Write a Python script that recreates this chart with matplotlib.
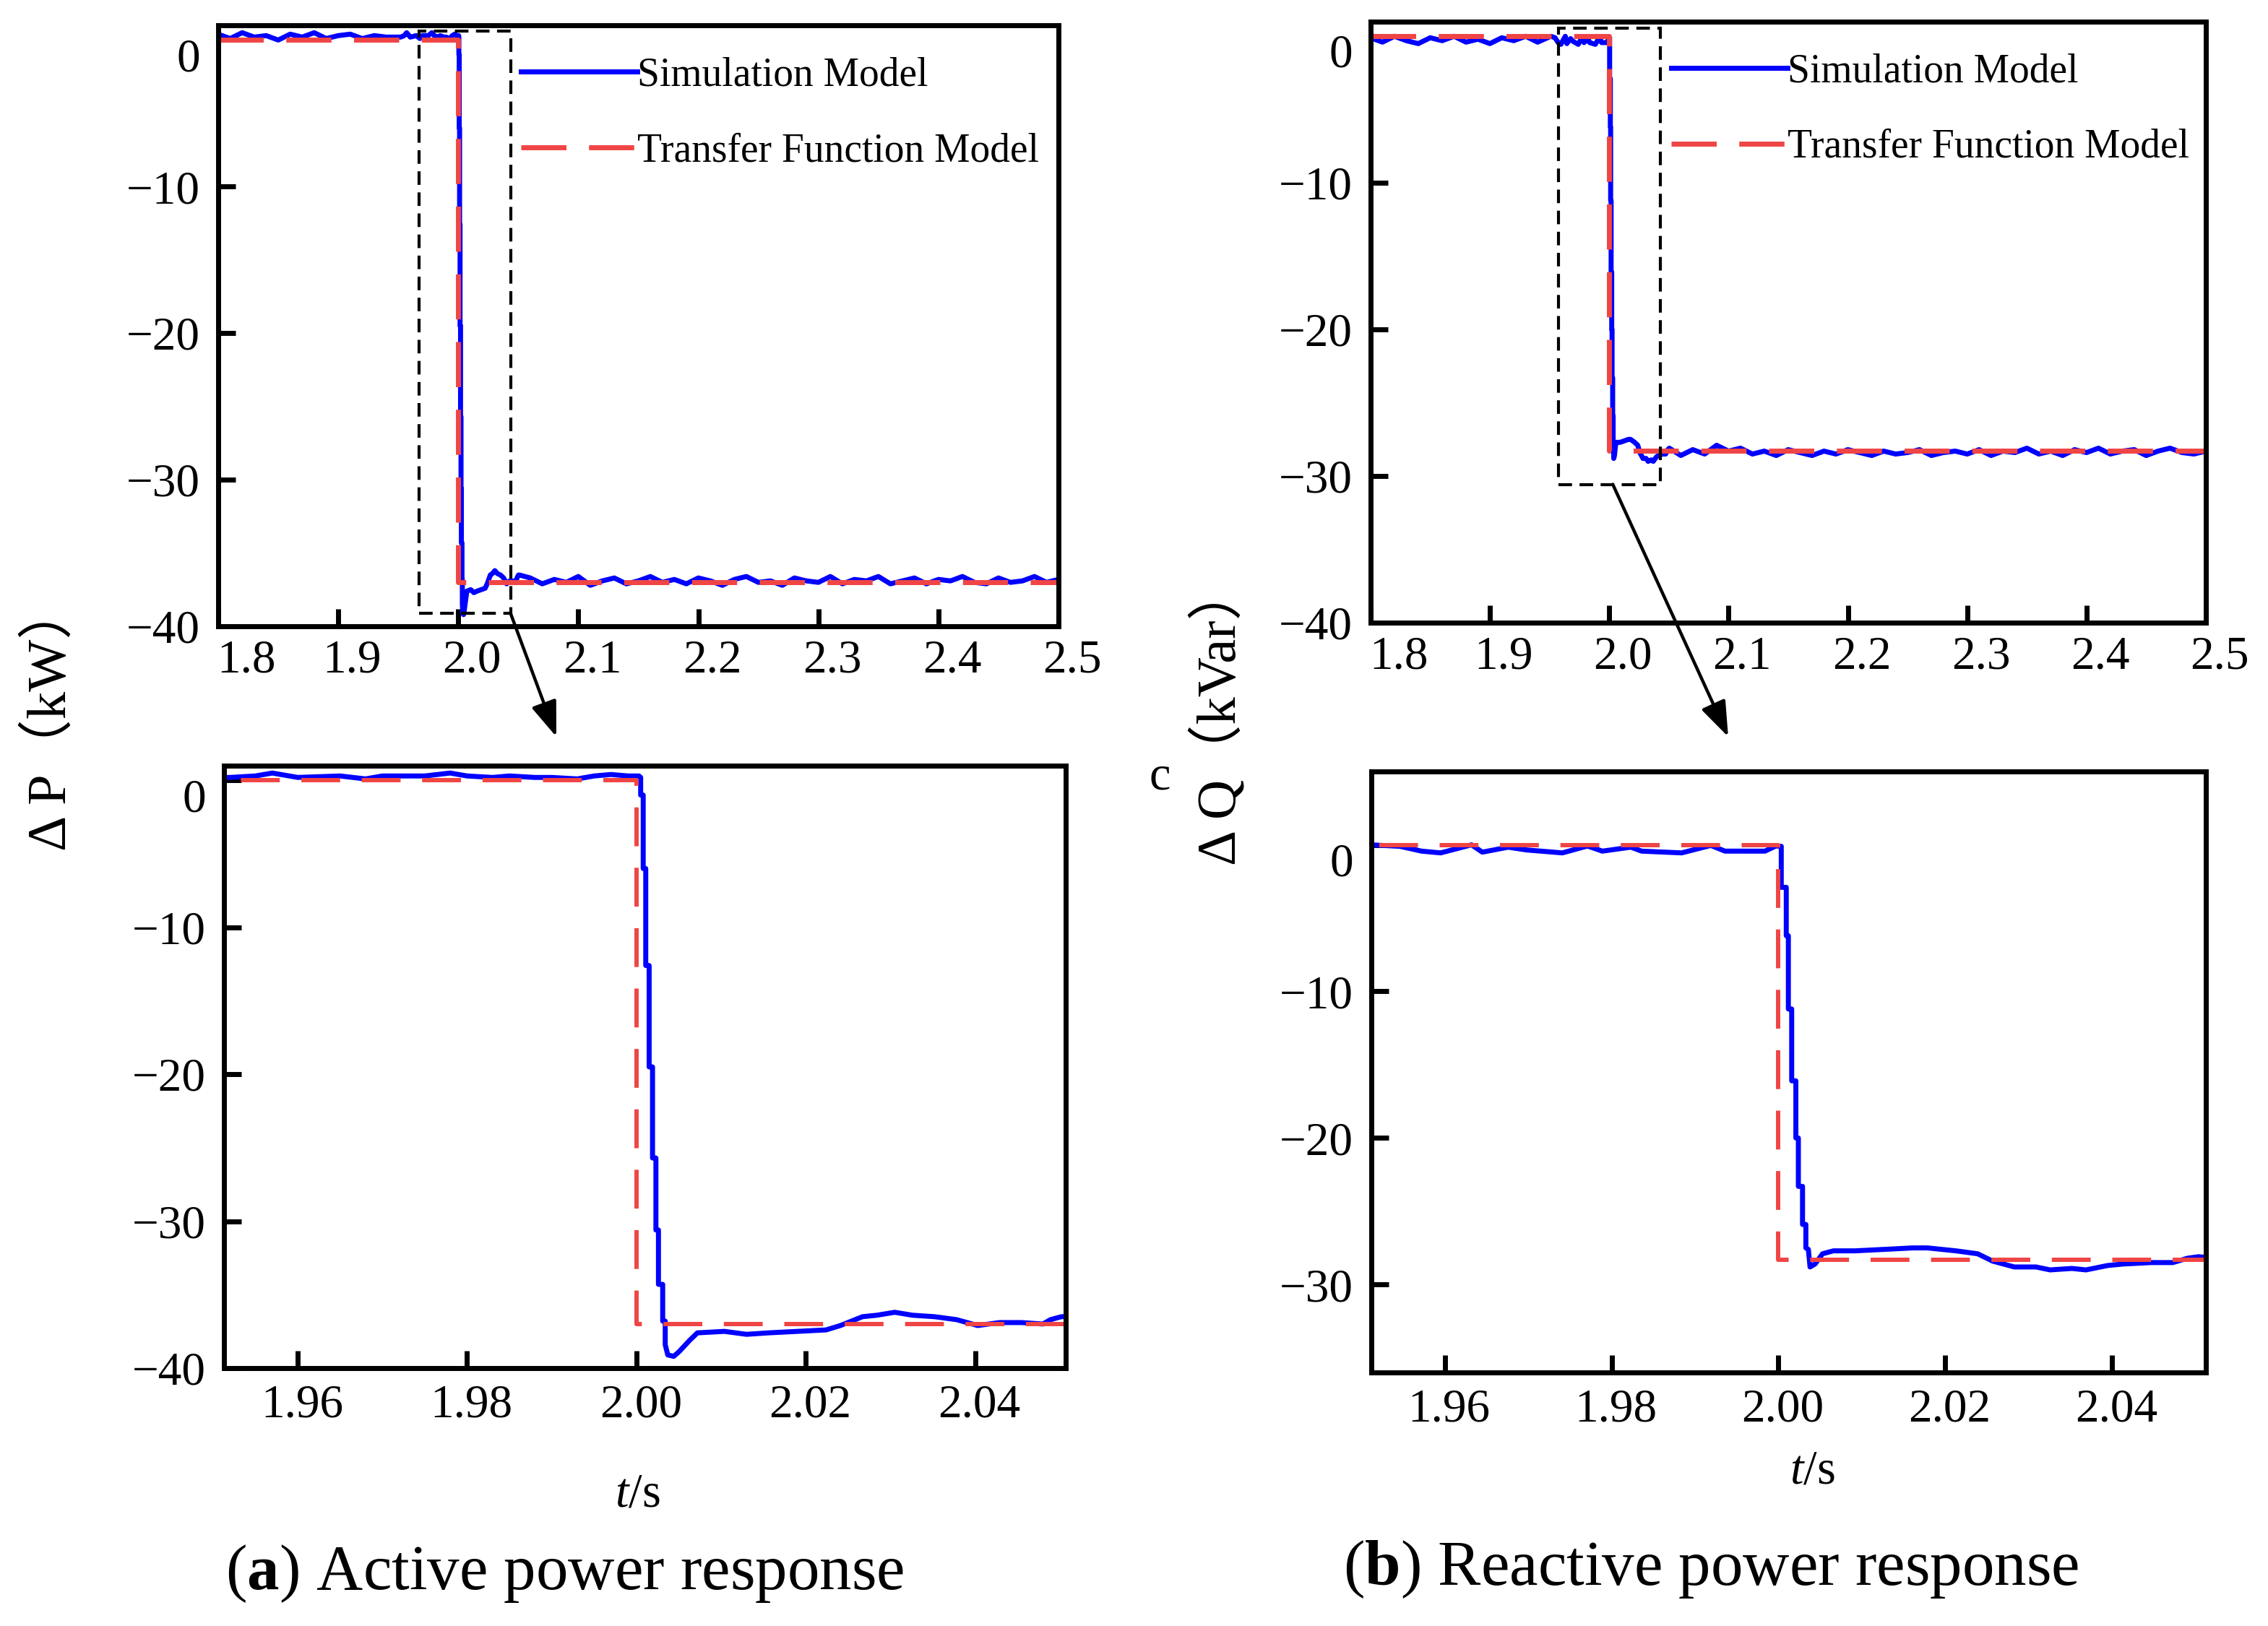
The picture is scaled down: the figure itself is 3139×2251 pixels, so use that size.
import matplotlib
matplotlib.use('Agg')
import matplotlib.pyplot as plt
import matplotlib.transforms as mtransforms
from matplotlib.patches import Rectangle

plt.rcParams['font.family'] = ['Liberation Serif', 'Noto Sans CJK SC']
plt.rcParams['mathtext.fontset'] = 'custom'
plt.rcParams['mathtext.rm'] = 'Liberation Serif'
plt.rcParams['mathtext.it'] = 'Liberation Serif:italic'
plt.rcParams['mathtext.bf'] = 'Liberation Serif:bold'

# ---- data ----
labels = ['Simulation Model', 'Transfer Function Model']

# active power, simulation model
p_t_pre = [1.80, 1.81, 1.82, 1.83, 1.84, 1.85, 1.86, 1.87, 1.88, 1.89, 1.90, 1.91, 1.92, 1.93, 1.94]
p_v_pre = [0.4, 0.1, 0.5, 0.2, 0.3, 0.0, 0.4, 0.2, 0.5, 0.1, 0.3, 0.4, 0.1, 0.3, 0.2]
# zoomed window, the drop is a sample-and-hold staircase
p_t_win = [1.9520, 1.9550, 1.9570, 1.9600, 1.9650, 1.9680, 1.9700, 1.9750, 1.9780, 1.9800,
           1.9830, 1.9850, 1.9880, 1.9900, 1.9930, 1.9950, 1.9970, 1.9990, 2.0003, 2.0005,
           2.0005, 2.0008, 2.0008, 2.0011, 2.0011, 2.0015, 2.0015, 2.0019, 2.0019, 2.0023,
           2.0023, 2.0026, 2.0026, 2.0031, 2.0031, 2.0034, 2.0034, 2.0037, 2.0044, 2.0050,
           2.0063, 2.0072, 2.0104, 2.0130, 2.0156, 2.0190, 2.0224, 2.0241, 2.0267, 2.0284,
           2.0305, 2.0326, 2.0352, 2.0378, 2.0403, 2.0429, 2.0455, 2.0480, 2.0489, 2.0502,
           2.0510]
p_v_win = [0.2, 0.3, 0.5, 0.2, 0.3, 0.1, 0.3, 0.3, 0.5, 0.3,
           0.2, 0.3, 0.2, 0.2, 0.1, 0.3, 0.4, 0.3, 0.3, 0.2,
           -1.0, -1.0, -6.0, -6.0, -12.6, -12.6, -19.5, -19.5, -25.7, -25.7,
           -30.6, -30.6, -34.3, -34.3, -36.8, -36.8, -38.4, -39.1, -39.2, -38.9,
           -38.1, -37.6, -37.5, -37.7, -37.6, -37.5, -37.4, -37.1, -36.5, -36.4,
           -36.2, -36.4, -36.5, -36.7, -37.1, -36.9, -36.9, -37.0, -36.7, -36.5,
           -36.5]
post_t = [2.06, 2.07, 2.08, 2.09, 2.10, 2.11, 2.12, 2.13, 2.14, 2.15, 2.16, 2.17, 2.18, 2.19, 2.20,
          2.21, 2.22, 2.23, 2.24, 2.25, 2.26, 2.27, 2.28, 2.29, 2.30, 2.31, 2.32, 2.33, 2.34, 2.35,
          2.36, 2.37, 2.38, 2.39, 2.40, 2.41, 2.42, 2.43, 2.44, 2.45, 2.46, 2.47, 2.48, 2.49, 2.50]
p_v_post = [-36.7, -37.1, -36.8, -37.0, -36.6, -37.2, -36.9, -36.7, -37.1, -36.9,
            -36.6, -37.0, -36.8, -37.1, -36.7, -36.9, -37.2, -36.8, -36.6, -37.0,
            -36.9, -37.2, -36.7, -36.9, -37.0, -36.6, -37.1, -36.8, -36.9, -36.6,
            -37.1, -36.9, -36.7, -37.1, -36.8, -36.9, -36.6, -37.0, -37.1, -36.7,
            -37.0, -36.9, -36.6, -37.0, -36.8]

# reactive power, simulation model
q_v_pre = [-0.1, -0.4, 0.0, -0.3, -0.5, -0.1, -0.3, 0.0, -0.4, -0.2, -0.5, -0.1, -0.3, 0.0, -0.4]
q_t_win = [1.9511, 1.9546, 1.9572, 1.9595, 1.9632, 1.9645, 1.9676, 1.9698, 1.9741, 1.9771,
           1.9789, 1.9823, 1.9836, 1.9884, 1.9919, 1.9936, 1.9984, 1.9997, 2.00035, 2.00035,
           2.00095, 2.00095, 2.0012, 2.0012, 2.0016, 2.0016, 2.0021, 2.0021, 2.0024, 2.0024,
           2.0029, 2.0029, 2.0033, 2.0033, 2.0036, 2.0038, 2.0044, 2.0053, 2.0066, 2.0092,
           2.0127, 2.0161, 2.0179, 2.0213, 2.0239, 2.0257, 2.0283, 2.0309, 2.0326, 2.0352,
           2.0369, 2.0395, 2.0413, 2.0447, 2.0473, 2.0491, 2.0504]
q_v_win = [0.0, -0.1, -0.43, -0.55, 0.0, -0.5, -0.16, -0.35, -0.55, -0.08,
           -0.43, -0.16, -0.43, -0.55, -0.04, -0.43, -0.43, -0.08, -0.1, -2.9,
           -2.9, -6.2, -6.2, -11.2, -11.2, -16.1, -16.1, -20.0, -20.0, -23.3,
           -23.3, -25.9, -25.9, -27.5, -27.6, -28.8, -28.6, -27.9, -27.7, -27.7,
           -27.6, -27.5, -27.5, -27.7, -27.9, -28.4, -28.8, -28.8, -29.0, -28.9,
           -29.0, -28.7, -28.6, -28.5, -28.5, -28.2, -28.1]
q_v_post = [-28.6, -28.2, -28.5, -27.9, -28.3, -28.1, -28.5, -28.3, -28.6, -28.2,
            -28.4, -28.6, -28.3, -28.5, -28.2, -28.4, -28.6, -28.3, -28.5, -28.4,
            -28.2, -28.6, -28.4, -28.3, -28.5, -28.2, -28.6, -28.3, -28.4, -28.1,
            -28.5, -28.3, -28.6, -28.2, -28.4, -28.1, -28.5, -28.3, -28.2, -28.6,
            -28.3, -28.1, -28.4, -28.5, -28.3]

# transfer function model (ideal step)
tf_t = [1.80, 2.00, 2.00, 2.50]
tf_p = [0.0, 0.0, -37.0, -37.0]
tf_q = [0.0, 0.0, -28.3, -28.3]

p_t = p_t_pre + p_t_win + post_t
p_v = p_v_pre + p_v_win + p_v_post
q_t = p_t_pre + q_t_win + post_t
q_v = q_v_pre + q_v_win + q_v_post

wide_ticks = [1.8, 1.9, 2.0, 2.1, 2.2, 2.3, 2.4, 2.5]
wide_labels = ['1.8', '1.9', '2.0', '2.1', '2.2', '2.3', '2.4', '2.5']
zoom_ticks = [1.96, 1.98, 2.00, 2.02, 2.04]
zoom_labels = ['1.96', '1.98', '2.00', '2.02', '2.04']

BLUE = '#0000ff'
RED = '#f04545'

fig = plt.figure(figsize=(31.39, 22.51), dpi=100)

ax_p = fig.add_axes([0.0962, 0.6148, 0.3705, 0.3696])
ax_q = fig.add_axes([0.6043, 0.6171, 0.3683, 0.3696])
ax_pz = fig.add_axes([0.0988, 0.1586, 0.3711, 0.3705])
ax_qz = fig.add_axes([0.6047, 0.1559, 0.3680, 0.3696])


def shift_label(lab, dx, dy):
    lab.set_transform(lab.get_transform() +
                      mtransforms.ScaledTranslation(dx / 100, dy / 100, fig.dpi_scale_trans))


def style(ax, xt, xl, yt, xlim, ylim, pad, shift):
    ax.set_xlim(*xlim)
    ax.set_ylim(*ylim)
    ax.set_xticks(xt)
    ax.set_xticklabels(xl)
    ax.set_yticks(yt)
    ax.set_yticklabels([str(v).replace('-', '\u2212') for v in yt])
    ax.tick_params(direction='in', length=17, width=5, labelsize=47, pad=pad)
    ax.tick_params(axis='y', pad=18)
    for s in ax.spines.values():
        s.set_linewidth(5)
    # labels in the original sit a little right of their ticks
    for i, lab in enumerate(ax.get_xticklabels()):
        shift_label(lab, shift + (20 if (i == 0 and shift > 10) else 0), 0)
    # the "0" label is pushed down below its tick
    shift_label(ax.get_yticklabels()[0], 0, -20)


for ax, tt, vv, tf in [(ax_p, p_t, p_v, tf_p), (ax_q, q_t, q_v, tf_q)]:
    ax.plot(tt, vv, color=BLUE, lw=5, label=labels[0])
    ax.plot(tf_t, tf, color=RED, lw=5, dashes=(9, 4.5), label=labels[1])
    style(ax, wide_ticks, wide_labels, [0, -10, -20, -30, -40], (1.8, 2.5), (-40, 1), 13, 19)
    ax.legend(loc='upper left', bbox_to_anchor=(0.36, 0.948), frameon=False, fontsize=40,
              handlelength=2.9, handletextpad=0.0, labelspacing=0.95, borderpad=0,
              borderaxespad=0)

for ax, tt, vv, tf in [(ax_pz, p_t, p_v, tf_p), (ax_qz, q_t, q_v, tf_q)]:
    ax.plot(tt, vv, color=BLUE, lw=5)
    ax.plot(tf_t, tf, color=RED, lw=4.3, dashes=(9, 5))

style(ax_pz, zoom_ticks, zoom_labels, [0, -10, -20, -30, -40], (1.9513, 2.0507), (-40, 1), 16, 6)
style(ax_qz, zoom_ticks, zoom_labels, [0, -10, -20, -30], (1.9512, 2.0513), (-36, 5), 16, 6)

# zoom boxes and arrows
ax_p.add_patch(Rectangle((1.9672, -39.1), 2.0435 - 1.9672, 39.7, fill=False, ec='black',
                         lw=3, ls=(0, (4.5, 2.5)), clip_on=False, zorder=5))
ax_q.add_patch(Rectangle((1.9576, -30.57), 2.0430 - 1.9576, 31.1, fill=False, ec='black',
                         lw=3, ls=(0, (4.5, 2.5)), clip_on=False, zorder=5))
arrow = dict(arrowstyle='-|>,head_length=0.6,head_width=0.22', color='black', lw=3.2,
             mutation_scale=50, shrinkA=0, shrinkB=0)
ax_p.annotate('', xy=(0.2453, 0.5469), xycoords='figure fraction',
              xytext=(2.0435, -39.1), textcoords='data', arrowprops=arrow, annotation_clip=False)
ax_q.annotate('', xy=(0.762, 0.5469), xycoords='figure fraction',
              xytext=(2.003, -30.57), textcoords='data', arrowprops=arrow, annotation_clip=False)

# axis titles and captions
fig.text(0.0223, 0.559, 'Δ P（kW）', rotation=90, ha='center', va='center', fontsize=55)
fig.text(0.5374, 0.56, 'Δ Q（kVar）', rotation=90, ha='center', va='center', fontsize=55)
fig.text(0.5113, 0.522, 'c', ha='center', va='center', fontsize=48)
fig.text(0.281, 0.081, r'$t$/s', ha='center', va='center', fontsize=48)
fig.text(0.799, 0.095, r'$t$/s', ha='center', va='center', fontsize=48)
fig.text(0.2491, 0.0324, r'($\mathbf{a}$) Active power response', ha='center', va='center',
         fontsize=64)
fig.text(0.7544, 0.0347, r'($\mathbf{b}$) Reactive power response', ha='center', va='center',
         fontsize=64)

fig.savefig('out.png', dpi=100)
